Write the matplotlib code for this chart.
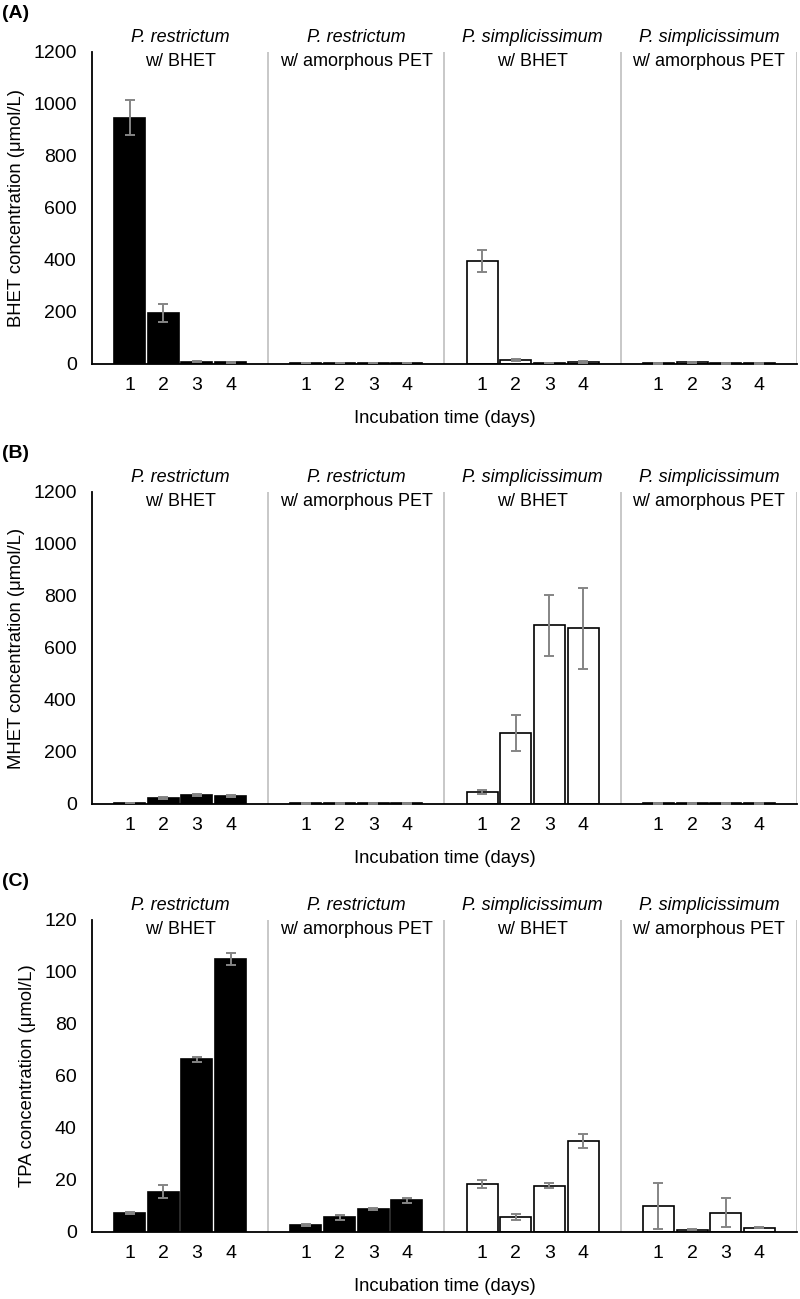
import matplotlib
matplotlib.use("Agg")
import matplotlib.pyplot as plt
import numpy as np

plt.rcParams['font.family'] = ['Liberation Sans', 'DejaVu Sans']

days = [1, 2, 3, 4]
species = ["P. restrictum", "P. restrictum", "P. simplicissimum", "P. simplicissimum"]
substrates = ["w/ BHET", "w/ amorphous PET", "w/ BHET", "w/ amorphous PET"]
fills = ["black", "black", "white", "white"]

# BHET (umol/L), one row per group, days 1-4
bhet_mean = [[948, 197, 8, 7], [3, 3, 3, 3], [396, 15, 3, 8], [2, 6, 2, 2]]
bhet_err = [[67, 34, 2, 2], [1, 1, 1, 1], [42, 4, 1, 3], [1, 2, 1, 1]]

# MHET (umol/L)
mhet_mean = [[3, 24, 33, 30], [2, 2, 2, 2], [47, 274, 688, 676], [2, 2, 2, 2]]
mhet_err = [[1, 3, 4, 3], [1, 1, 1, 1], [8, 70, 117, 155], [1, 1, 1, 1]]

# TPA (umol/L)
tpa_mean = [[7.4, 15.5, 66.5, 105], [2.7, 5.6, 8.9, 12.2], [18.5, 5.8, 17.8, 35], [10, 0.9, 7.5, 1.7]]
tpa_err = [[0.4, 2.4, 1.0, 2.2], [0.4, 1.0, 0.4, 0.9], [1.6, 1.0, 1.0, 2.8], [9, 0.3, 5.4, 0.3]]

panels = [
    ("(A)", "BHET concentration (\u03bcmol/L)", bhet_mean, bhet_err, 1200, 200),
    ("(B)", "MHET concentration (\u03bcmol/L)", mhet_mean, mhet_err, 1200, 200),
    ("(C)", "TPA concentration (\u03bcmol/L)", tpa_mean, tpa_err, 120, 20),
]

W, H = 800, 1299
fig = plt.figure(figsize=(W / 100, H / 100), dpi=100)

ax_left, ax_right = 92, 797
ax_tops = [52, 492, 920]
ax_h = 312
G = 5.24  # width of one group in bar slots
fs = 13.3

for (tag, ylabel, means, errs, ymax, ystep), top in zip(panels, ax_tops):
    ax = fig.add_axes([ax_left / W, 1 - (top + ax_h) / H, (ax_right - ax_left) / W, ax_h / H])

    xticks, xlabels = [], []
    for g in range(4):
        x = g * G + G / 2 + np.arange(4) - 1.5
        ax.bar(x, means[g], width=0.92, color=fills[g], edgecolor="black", linewidth=1.2, zorder=2)
        ax.errorbar(x, means[g], yerr=errs[g], fmt="none", ecolor="#858585",
                    elinewidth=1.4, capsize=3.5, capthick=1.4, zorder=3)
        xticks += list(x)
        xlabels += [str(d) for d in days]
        ax.axvline((g + 1) * G, color="#bfbfbf", lw=1.2, zorder=1)
        cx = g * G + G / 2
        ax.text(cx, 1.045, species[g], transform=ax.get_xaxis_transform(), ha="center",
                va="center", fontsize=13, style="italic")
        ax.text(cx, 0.968, substrates[g], transform=ax.get_xaxis_transform(), ha="center",
                va="center", fontsize=13)

    ax.set_xlim(0, 4 * G)
    ax.set_ylim(0, ymax)
    ax.set_yticks(np.arange(0, ymax + 1, ystep))
    ax.set_xticks(xticks)
    ax.set_xticklabels(xlabels)
    ax.tick_params(axis="both", length=0, labelsize=14)
    ax.tick_params(axis="y", pad=11)
    ax.tick_params(axis="x", pad=9)
    for s in ["top", "right"]:
        ax.spines[s].set_visible(False)
    ax.spines["left"].set_linewidth(1.3)
    ax.spines["bottom"].set_linewidth(1.3)
    ax.set_ylabel(ylabel, fontsize=fs, labelpad=6)
    ax.set_xlabel("Incubation time (days)", fontsize=fs, labelpad=12)

    fig.text(2 / W, 1 - (top - 39) / H, tag, fontsize=14, fontweight="bold", ha="left", va="center")

fig.savefig("out.png", dpi=100)
